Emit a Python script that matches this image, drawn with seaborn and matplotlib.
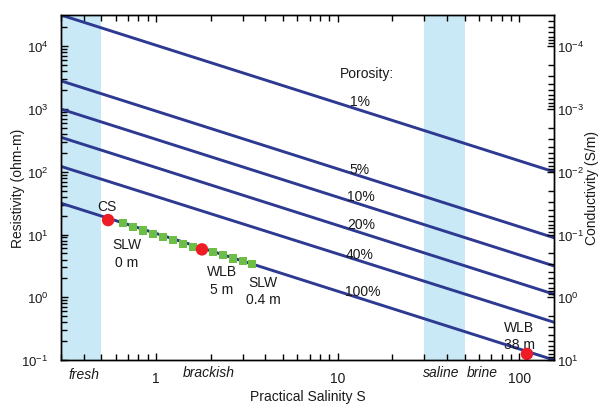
import numpy as np
import pandas as pd
import matplotlib
matplotlib.use("Agg")
import matplotlib.pyplot as plt
import seaborn as sns
from matplotlib.ticker import (LogLocator, LogFormatterSciNotation,
                               NullFormatter, FixedLocator)

# ---- data ----
salinity_range = [0.3, 155]
porosity_labels = ["1%", "5%", "10%", "20%", "40%", "100%"]
rho_at_smin = [31600, 2820, 1000, 355, 122, 31.6]
rho_at_smax = [100, 8.9, 3.16, 1.12, 0.40, 0.10]

red_labels = ["CS", "WLB 5 m", "WLB 38 m"]
red_S = [0.545, 1.79, 110]
red_rho = [17.0, 5.8, 0.125]

green_S = [0.661, 0.750, 0.851, 0.966, 1.097, 1.245, 1.41, 1.59,
           2.05, 2.33, 2.64, 3.0, 3.36]
green_rho = [15.1, 13.4, 11.6, 10.3, 9.1, 8.1, 7.1, 6.3,
             5.2, 4.65, 4.15, 3.75, 3.4]

bands = [(0.3, 0.5), (30, 50)]
x_ticks = [1, 10, 100]
x_ticklabels = ["1", "10", "100"]
y_lim = (0.1, 10 ** 4.5)

# ---- style ----
sns.set_style("ticks")
rc = plt.rcParams
rc["font.family"] = ["Liberation Sans", "DejaVu Sans"]
rc["mathtext.fontset"] = "custom"
rc["mathtext.rm"] = "Liberation Sans"
rc["mathtext.it"] = "Liberation Sans:italic"
rc["text.color"] = "#1a1a1a"
rc["axes.labelcolor"] = "#1a1a1a"
rc["xtick.color"] = "black"
rc["ytick.color"] = "black"
rc["xtick.labelcolor"] = "#1a1a1a"
rc["ytick.labelcolor"] = "#1a1a1a"
rc["axes.edgecolor"] = "black"
rc["axes.unicode_minus"] = False
rc["xtick.minor.size"] = 4
rc["ytick.minor.size"] = 4
rc["xtick.minor.width"] = 1.0
rc["ytick.minor.width"] = 1.0

LINE = "#2E3A92"
BAND = "#C9E9F6"
RED = "#EE1C25"
GREEN = "#6CBE45"
FS = 10
TFS = 9.5

fig = plt.figure(figsize=(5.98, 4.06), dpi=100)
ax = fig.add_axes([61 / 598, 1 - 361 / 406, 493 / 598, 345 / 406])

for lo, hi in bands:
    ax.axvspan(lo, hi, color=BAND, lw=0, zorder=0)

rows = []
for lab, r0, r1 in zip(porosity_labels, rho_at_smin, rho_at_smax):
    rows.append({"S": salinity_range[0], "rho": r0, "porosity": lab})
    rows.append({"S": salinity_range[1], "rho": r1, "porosity": lab})
df = pd.DataFrame(rows)
sns.lineplot(data=df, x="S", y="rho", units="porosity", estimator=None,
             color=LINE, lw=2.1, ax=ax, legend=False, zorder=2)

gdf = pd.DataFrame({"S": green_S, "rho": green_rho})
sns.scatterplot(data=gdf, x="S", y="rho", marker="s", s=34, color=GREEN,
                edgecolor="none", ax=ax, zorder=3, legend=False)
rdf = pd.DataFrame({"S": red_S, "rho": red_rho, "name": red_labels})
sns.scatterplot(data=rdf, x="S", y="rho", marker="o", s=80, color=RED,
                edgecolor="none", ax=ax, zorder=4, legend=False)


def minor_positions(lo_exp, hi_exp):
    out = []
    for e in range(lo_exp, hi_exp + 1):
        for m in range(2, 10):
            out.append(m * 10.0 ** e)
    return out


ax.set_xscale("log")
ax.set_yscale("log")
ax.set_xlim(*salinity_range)
ax.set_ylim(*y_lim)
ax.xaxis.set_major_locator(FixedLocator(x_ticks))
ax.set_xticklabels(x_ticklabels)
ax.xaxis.set_minor_locator(FixedLocator(minor_positions(-1, 2)))
ax.xaxis.set_minor_formatter(NullFormatter())
ax.yaxis.set_major_locator(LogLocator(base=10, numticks=20))
ax.yaxis.set_minor_locator(FixedLocator(minor_positions(-1, 4)))
ax.yaxis.set_major_formatter(LogFormatterSciNotation())
ax.yaxis.set_minor_formatter(NullFormatter())
ax.tick_params(which="both", direction="in", top=True, bottom=True,
               left=True, right=False)
ax.tick_params(axis="x", which="major", length=5, width=1.0, pad=8,
               labelsize=FS)
ax.tick_params(axis="y", which="major", length=5, width=1.0, pad=9,
               labelsize=TFS)
ax.tick_params(which="minor", length=4, width=1.0, color="black")
ax.set_xlabel("Practical Salinity S", fontsize=FS, labelpad=3)
ax.set_ylabel("Resistivity (ohm-m)", fontsize=FS)
ax.yaxis.set_label_coords((25 - 61) / 493, 0.5)
for s in ax.spines.values():
    s.set_linewidth(1.0)
    s.set_color("black")

ax2 = ax.twinx()
ax2.set_yscale("log")
ax2.set_ylim(1 / y_lim[0], 1 / y_lim[1])
ax2.yaxis.set_major_locator(LogLocator(base=10, numticks=20))
ax2.yaxis.set_minor_locator(FixedLocator(minor_positions(-5, 1)))
ax2.yaxis.set_major_formatter(LogFormatterSciNotation())
ax2.yaxis.set_minor_formatter(NullFormatter())
ax2.tick_params(which="both", direction="in", right=True)
ax2.tick_params(which="major", length=5, width=1.0, pad=2, labelsize=TFS)
ax2.tick_params(which="minor", length=4, width=1.0, color="black")
ax2.set_ylabel("Conductivity (S/m)", fontsize=FS)
ax2.yaxis.set_label_coords((585 - 61) / 493, 0.5)
for s in ax2.spines.values():
    s.set_linewidth(1.0)
    s.set_color("black")

# ---- annotations (axes fraction from pixel positions) ----
def fx(px):
    return (px - 61) / 493

def fy(py):
    return (361 - py) / 345

texts = [
    ("Porosity:", 367, 74), ("1%", 360, 102), ("5%", 359, 170),
    ("10%", 361, 197), ("20%", 361, 225), ("40%", 360, 255),
    ("100%", 363, 292),
    ("CS", 107, 207), ("SLW", 127, 245), ("0 m", 127, 263),
    ("WLB", 222, 272), ("5 m", 222, 290),
    ("SLW", 263, 283), ("0.4 m", 263, 300),
    ("WLB", 519, 328), ("38 m", 519, 345),
]
for t, px, py in texts:
    ax.text(fx(px), fy(py), t, transform=ax.transAxes, ha="center",
            va="center", fontsize=FS)

regions = [("fresh", 84, 375), ("brackish", 209, 373),
           ("saline", 441, 373), ("brine", 482, 373)]
for t, px, py in regions:
    ax.text(fx(px), fy(py), t, transform=ax.transAxes, ha="center",
            va="center", fontsize=FS, style="italic")

fig.savefig("out.png", dpi=100)
